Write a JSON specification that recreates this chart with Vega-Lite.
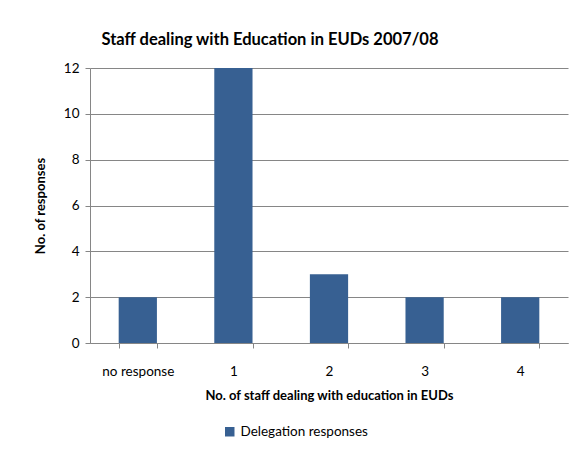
{
  "$schema": "https://vega.github.io/schema/vega-lite/v6.json",
  "autosize": {"type": "none"},
  "padding": {"left": 90, "top": 68, "right": 4, "bottom": 115},
  "width": 478,
  "height": 275,
  "background": "white",
  "title": {
    "text": "Staff dealing with Education in EUDs 2007/08",
    "font": "Lato",
    "fontSize": 16.5,
    "fontWeight": "bold",
    "color": "#000000",
    "anchor": "middle",
    "dx": -59,
    "offset": 13
  },
  "data": {
    "values": [
      {"staff": "no response", "responses": 2, "series": "Delegation responses"},
      {"staff": "1", "responses": 12, "series": "Delegation responses"},
      {"staff": "2", "responses": 3, "series": "Delegation responses"},
      {"staff": "3", "responses": 2, "series": "Delegation responses"},
      {"staff": "4", "responses": 2, "series": "Delegation responses"}
    ]
  },
  "mark": {"type": "bar"},
  "encoding": {
    "x": {
      "field": "staff",
      "type": "nominal",
      "sort": null,
      "scale": {"paddingInner": 0.6, "paddingOuter": 0.3},
      "axis": {
        "title": "No. of staff dealing with education  in EUDs",
        "titleFont": "Lato",
        "titleFontSize": 13,
        "titleFontWeight": "bold",
        "titleColor": "#000000",
        "titlePadding": 12,
        "labelFont": "Lato",
        "labelFontSize": 13.5,
        "labelColor": "#000000",
        "labelAngle": 0,
        "labelPadding": 16,
        "domainColor": "#868686",
        "tickColor": "#868686",
        "tickBand": "extent",
        "tickSize": 5,
        "grid": false
      }
    },
    "y": {
      "field": "responses",
      "type": "quantitative",
      "scale": {"domain": [0, 12]},
      "axis": {
        "title": "No. of responses",
        "titleFont": "Lato",
        "titleFontSize": 13,
        "titleFontWeight": "bold",
        "titleColor": "#000000",
        "titlePadding": 16,
        "values": [0, 2, 4, 6, 8, 10, 12],
        "labelFont": "Lato",
        "labelFontSize": 13.5,
        "labelColor": "#000000",
        "labelPadding": 6,
        "domainColor": "#868686",
        "tickColor": "#868686",
        "tickSize": 5,
        "gridColor": "#868686",
        "gridWidth": 1
      }
    },
    "color": {
      "field": "series",
      "type": "nominal",
      "scale": {"range": ["#376092"]},
      "legend": {
        "title": null,
        "orient": "none",
        "legendX": 133,
        "legendY": 357,
        "symbolType": "square",
        "symbolSize": 90,
        "symbolStrokeWidth": 0,
        "labelFont": "Lato",
        "labelFontSize": 13.5,
        "labelColor": "#000000"
      }
    }
  },
  "config": {
    "view": {"stroke": null}
  }
}
